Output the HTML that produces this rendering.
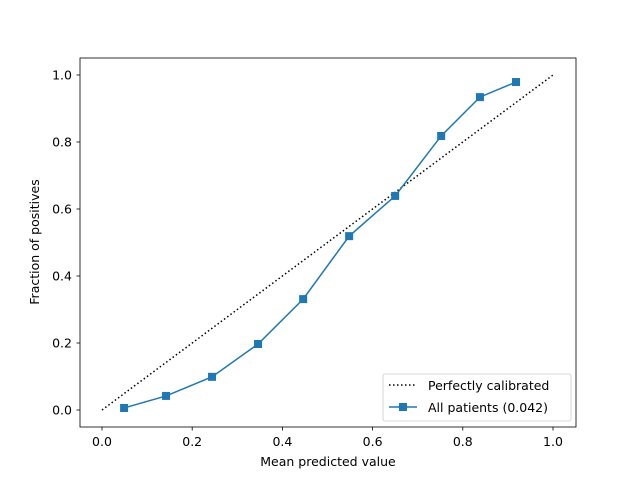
<!DOCTYPE html>
<html><head><meta charset="utf-8"><style>
body{margin:0;background:#fff;}
svg text{font-family:"DejaVu Sans","Liberation Sans",sans-serif;font-size:12.5px;fill:#000;}
</style></head><body>
<svg id="chart" width="640" height="480" xmlns="http://www.w3.org/2000/svg">
<rect width="640" height="480" fill="#fff"/>
<g id="plot"></g>
</svg>
<script>
const xValues=[0.049,0.142,0.244,0.346,0.446,0.548,0.650,0.752,0.838,0.918];
const yValues=[0.006,0.042,0.099,0.197,0.331,0.519,0.639,0.818,0.934,0.979];
const xTicks=[0,0.2,0.4,0.6,0.8,1.0];
const yTicks=[0,0.2,0.4,0.6,0.8,1.0];
const xTickLabels=["0.0","0.2","0.4","0.6","0.8","1.0"];
const yTickLabels=["0.0","0.2","0.4","0.6","0.8","1.0"];
const NS="http://www.w3.org/2000/svg";
const g=document.getElementById('plot');
const X=v=>102+v*451, Y=v=>410-v*335;
function mk(t,a,p){const e=document.createElementNS(NS,t);for(const k in a)e.setAttribute(k,a[k]);(p||g).appendChild(e);return e;}
let e;
e=mk('rect',{x:80,y:58,width:496,height:369,fill:'none',stroke:'#000','stroke-width':0.8});


xTicks.forEach((v,i)=>{
 e=mk('line',{x1:X(v),x2:X(v),y1:427,y2:430.5,stroke:'#000','stroke-width':0.8});
 
 
 e=mk('text',{x:X(v),y:446,'text-anchor':'middle'});e.textContent=xTickLabels[i];
 
 
});
yTicks.forEach((v,i)=>{
 e=mk('line',{x1:76.5,x2:80,y1:Y(v),y2:Y(v),stroke:'#000','stroke-width':0.8});
 
 
 e=mk('text',{x:72,y:Y(v)+4.5,'text-anchor':'end'});e.textContent=yTickLabels[i];
 
 
});
e=mk('text',{x:328,y:466,'text-anchor':'middle'});e.textContent='Mean predicted value';


e=mk('text',{x:0,y:0,'text-anchor':'middle',transform:'translate(39,242) rotate(-90)'});e.textContent='Fraction of positives';


e=mk('line',{x1:X(0),y1:Y(0),x2:X(1),y2:Y(1),stroke:'#000','stroke-width':1.5,'stroke-dasharray':'1.5,2.5'});


e=mk('polyline',{points:xValues.map((v,i)=>X(v)+','+Y(yValues[i])).join(' '),fill:'none',stroke:'#1f77b4','stroke-width':1.5});


xValues.forEach((v,i)=>{
 e=mk('rect',{x:X(v)-4,y:Y(yValues[i])-4,width:8,height:8,fill:'#1f77b4'});
 
 
});
const lg=mk('g',{});


mk('rect',{x:383,y:374,width:188,height:47,rx:2,fill:'#fff',stroke:'#ccc','stroke-width':0.8,'fill-opacity':0.8},lg);
mk('line',{x1:389,x2:417,y1:385,y2:385,stroke:'#000','stroke-width':1.5,'stroke-dasharray':'1.5,2.5'},lg);
e=mk('text',{x:428,y:390},lg);e.textContent='Perfectly calibrated';


mk('line',{x1:389,x2:417,y1:407,y2:407,stroke:'#1f77b4','stroke-width':1.5},lg);
mk('rect',{x:399,y:403,width:8,height:8,fill:'#1f77b4'},lg);
e=mk('text',{x:428,y:412},lg);e.textContent='All patients (0.042)';


</script>
</body></html>
